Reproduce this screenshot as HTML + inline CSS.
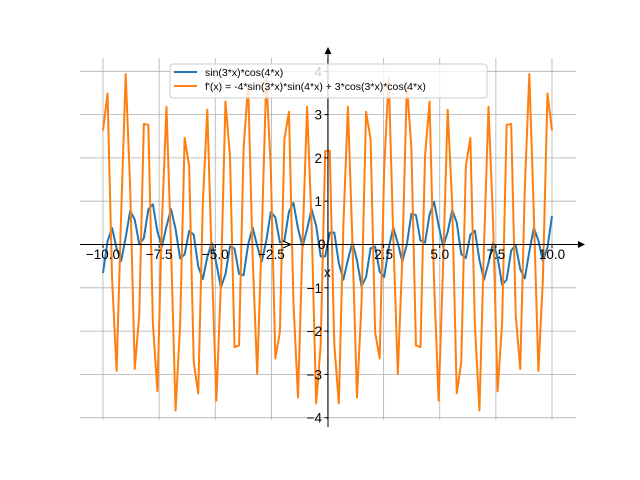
<!DOCTYPE html>
<html><head><meta charset="utf-8"><style>body{margin:0;background:#fff}svg{display:block}text{font-family:"Liberation Sans","DejaVu Sans",sans-serif}</style></head>
<body>
<svg id="s" width="640" height="480" xmlns="http://www.w3.org/2000/svg">
<g id="grid" stroke="#b0b0b0" stroke-width="0.8"></g>
<g id="series" fill="none" stroke-width="2" stroke-linejoin="round"></g>
<g stroke="#000" stroke-width="1">
<line x1="80" y1="244.5" x2="580" y2="244.5"/>
<line x1="328" y1="427" x2="328" y2="52"/>
</g>
<path d="M585 244.5 L578 241 L578 248 Z" fill="#000"/>
<path d="M328 47 L324.5 54 L331.5 54 Z" fill="#000"/>
<path d="M283 241 L291 244.5 L283 248" fill="none" stroke="#000" stroke-width="1"/>
<g id="ticks" font-size="13.5" fill="#000"></g>
<text x="318" y="249" font-size="13.5">0</text>
<text x="324" y="277" font-size="13.5">x</text>
<rect x="170" y="64" width="317" height="34" rx="3" fill="#fff" fill-opacity="0.8" stroke="#ccc" stroke-width="1"/>
<line x1="174" y1="72" x2="197" y2="72" stroke="#1f77b4" stroke-width="2"/>
<line x1="174" y1="86" x2="197" y2="86" stroke="#ff7f0e" stroke-width="2"/>
<text x="205" y="76" font-size="10.5">sin(3*x)*cos(4*x)</text>
<text x="205" y="90" font-size="10.5">f'(x) = -4*sin(3*x)*sin(4*x) + 3*cos(3*x)*cos(4*x)</text>
</svg>
<script>
var X=function(v){return 327.5+v*22.45},Y=function(v){return 244.5-v*43.3};
var g=document.getElementById('grid'),t=document.getElementById('ticks'),h='',tk='';
for(var i=0;i<=8;i++){var v=-10+i*2.5,x=X(v);h+='<line x1="'+x+'" y1="58" x2="'+x+'" y2="420"/>';if(v!==0)tk+='<text x="'+x+'" y="259" text-anchor="middle">'+(v<0?'−':'')+Math.abs(v).toFixed(1)+'</text>';tk+='<line x1="'+x+'" y1="244.5" x2="'+x+'" y2="248" stroke="#000"/>';}
for(var j=-4;j<=4;j++){var y=Y(j);h+='<line x1="80" y1="'+y+'" x2="576" y2="'+y+'"/>';if(j!==0)tk+='<text x="322" y="'+(y+5)+'" text-anchor="end">'+(j<0?'−':'')+Math.abs(j)+'</text>';tk+='<line x1="324.5" y1="'+y+'" x2="328" y2="'+y+'" stroke="#000"/>';}
g.innerHTML=h;t.innerHTML=tk;
var a='',b='';
for(var k=0;k<100;k++){var x=-10+20*k/99;var f=Math.sin(3*x)*Math.cos(4*x),d=-4*Math.sin(3*x)*Math.sin(4*x)+3*Math.cos(3*x)*Math.cos(4*x);a+=(k?'L':'M')+X(x).toFixed(2)+' '+Y(f).toFixed(2);b+=(k?'L':'M')+X(x).toFixed(2)+' '+Y(d).toFixed(2);}
document.getElementById('series').innerHTML='<path d="'+a+'" stroke="#1f77b4"/><path d="'+b+'" stroke="#ff7f0e"/>';
</script>
</body></html>
